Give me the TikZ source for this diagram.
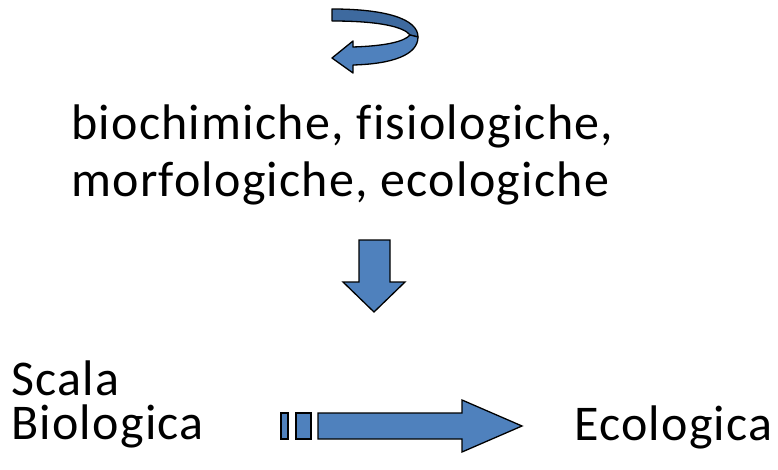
\documentclass[tikz,border=0pt]{standalone}
\usepackage{fontspec}
\setmainfont{Carlito}[Ligatures=NoCommon,LetterSpace=2.5]
\begin{document}
\begin{tikzpicture}[x=1pt,y=-1pt,
  label/.style={anchor=base west,inner sep=0pt,align=left,font=\fontsize{50}{60}\selectfont},
  blockarrow/.style={fill=arrowblue,draw=black,line width=1.3pt,line join=miter},
  backband/.style={fill=arrowdark,draw=black,line width=1.3pt,line join=round}]
\definecolor{arrowblue}{HTML}{4F81BD}
\definecolor{arrowdark}{HTML}{3E6A9F}
\useasboundingbox (0,0) rectangle (778,470);

% circular arrow: rear band, then the front band with its head
\draw[backband] (332,9) .. controls (386,9) and (418,19) .. (418,37)
  -- (410,35) .. controls (404,27) and (380,21) .. (332,21) -- cycle;
\draw[blockarrow,line join=round] (418,37) .. controls (418,55) and (392,64) .. (353,65)
  -- (353,73) -- (332,58) -- (353,41) -- (353,47)
  .. controls (384,46) and (404,42) .. (410,35) -- cycle;

% text blocks (base anchor sits on the last line)
\node[label,font=\fontsize{50}{57}\selectfont] (traits) at (71,197)
  {biochimiche, fisiologiche,\\morfologiche, ecologiche};

% downward block arrow
\draw[blockarrow] (359,240) -- (390,240) -- (390,282) -- (405,282) -- (374,312)
  -- (343,282) -- (359,282) -- cycle;

\node[label,font=\fontsize{50}{44}\selectfont] (scale) at (11,439) {Scala\\Biologica};
\node[label] (eco) at (574,440) {Ecologica};

% striped right block arrow
\draw[blockarrow] (281,413) rectangle (288,439);
\draw[blockarrow] (296,413) rectangle (311,439);
\draw[blockarrow] (318,413) -- (462,413) -- (462,400) -- (522,426) -- (462,452)
  -- (462,439) -- (318,439) -- cycle;
\end{tikzpicture}
\end{document}
